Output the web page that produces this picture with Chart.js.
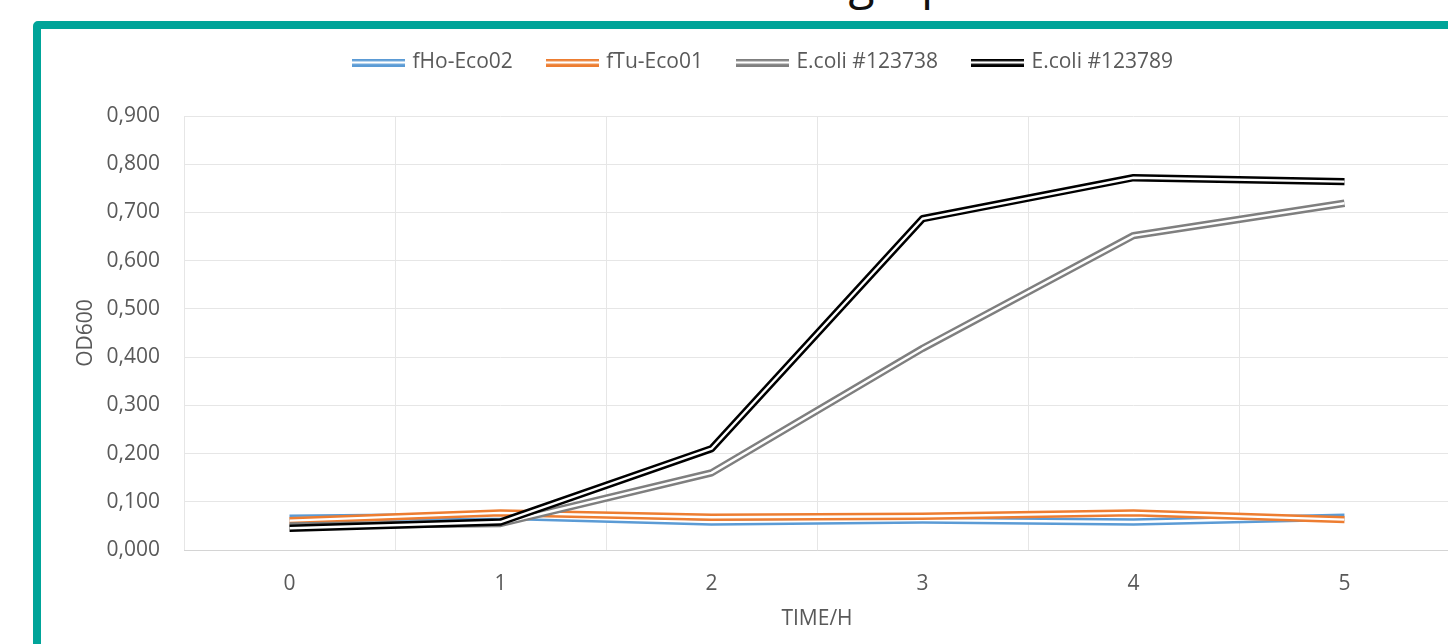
<!DOCTYPE html>
<html><head><meta charset="utf-8">
<script src="https://cdn.jsdelivr.net/npm/chart.js@4.4.1/dist/chart.umd.min.js"></script>
<style>
html,body{margin:0;padding:0;width:1448px;height:644px;overflow:hidden;background:#fff;}
#title{position:absolute;left:669px;top:-43px;font-family:'Open Sans';font-size:48px;line-height:48px;color:#111;white-space:nowrap;}
#wrap{position:absolute;left:0;top:0;width:1500px;height:700px;}
#frame{position:absolute;left:33px;top:21px;width:1500px;height:700px;border:8px solid #00A499;border-radius:5px;box-sizing:border-box;pointer-events:none;}
</style></head>
<body>
<div id="title">Growth graph</div>
<div id="wrap"><canvas id="c" width="1500" height="700"></canvas></div>
<div id="frame"></div>
<script>
// ---- data ----
const categories = ['0', '1', '2', '3', '4', '5'];
const seriesNames = ['fHo-Eco02', 'fTu-Eco01', 'E.coli #123738', 'E.coli #123789'];
const fHoEco02 = [0.066, 0.070, 0.058, 0.062, 0.058, 0.068];
const fTuEco01 = [0.061, 0.077, 0.068, 0.070, 0.077, 0.063];
const ecoli123738 = [0.050, 0.055, 0.160, 0.418, 0.652, 0.719];
const ecoli123789 = [0.045, 0.058, 0.210, 0.687, 0.772, 0.764];
const seriesColors = ['#5B9BD5', '#ED7D31', '#7F7F7F', '#000000'];
const yMin = 0, yMax = 0.9, yStep = 0.1;
const xTitle = 'TIME/H';
const yTitle = 'OD600';

const FONT = "'Open Sans'";
const FS = 21;
const TXT = '#595959';
const GRID = '#e6e6e6';

function makeMarker(color) {
  const cv = document.createElement('canvas');
  cv.width = 53; cv.height = 8;
  const c = cv.getContext('2d');
  c.fillStyle = color; c.fillRect(0, 0, 53, 8);
  c.fillStyle = '#ffffff'; c.fillRect(0, 2.8, 53, 2.4);
  return cv;
}
const markers = seriesColors.map(makeMarker);

const allSeries = [fHoEco02, fTuEco01, ecoli123738, ecoli123789];
const datasets = allSeries.map((d, i) => ({
  label: seriesNames[i],
  data: d,
  borderColor: seriesColors[i],
  backgroundColor: seriesColors[i],
  borderWidth: 7.4,
  pointRadius: 0,
  pointHoverRadius: 0,
  tension: 0,
  fill: false,
  borderJoinStyle: 'round',
  order: allSeries.length - i
}));

const doubleLine = {
  id: 'doubleLine',
  afterDatasetDraw(chart, args) {
    const pts = args.meta.data;
    if (!pts || !pts.length) return;
    const ctx = chart.ctx;
    ctx.save();
    ctx.beginPath();
    ctx.moveTo(pts[0].x, pts[0].y);
    for (let i = 1; i < pts.length; i++) ctx.lineTo(pts[i].x, pts[i].y);
    ctx.lineWidth = 2.4;
    ctx.strokeStyle = '#ffffff';
    ctx.lineJoin = 'round';
    ctx.lineCap = 'butt';
    ctx.stroke();
    ctx.restore();
  }
};

const legendSpacer = {
  id: 'legendSpacer',
  beforeLayout(chart) {
    const lg = chart.legend;
    if (lg && !lg._patched) {
      const orig = lg.fit;
      lg.fit = function () { orig.call(this); this.height += 33; };
      lg._patched = true;
    }
  }
};

new Chart(document.getElementById('c'), {
  type: 'line',
  data: { labels: categories, datasets },
  options: {
    responsive: false,
    animation: false,
    devicePixelRatio: 1,
    layout: { padding: { left: 79, right: 50, top: 15, bottom: 50 } },
    plugins: {
      tooltip: { enabled: false },
      legend: {
        position: 'top',
        labels: {
          color: TXT,
          font: { family: FONT, size: FS },
          padding: 37,
          usePointStyle: true,
          pointStyleWidth: 46,
          generateLabels: () => seriesNames.map((n, i) => ({
            text: n, fillStyle: seriesColors[i], strokeStyle: seriesColors[i],
            lineWidth: 0, pointStyle: markers[i], datasetIndex: i, hidden: false, fontColor: TXT
          }))
        }
      }
    },
    scales: {
      x: {
        offset: true,
        grid: { offset: true, color: GRID, drawTicks: false },
        border: { display: true, color: '#d4d4d4' },
        ticks: { color: TXT, font: { family: FONT, size: FS }, padding: 21 },
        title: { display: true, text: xTitle, color: TXT, font: { family: FONT, size: FS }, padding: { top: 0, bottom: 18 } },
        afterFit(s) { s.height = 100; }
      },
      y: {
        min: yMin, max: yMax,
        grid: { color: GRID, drawTicks: false },
        border: { display: false },
        ticks: {
          stepSize: yStep, color: TXT, font: { family: FONT, size: FS }, padding: 24,
          callback: v => v.toFixed(3).replace('.', ',')
        },
        title: { display: true, text: yTitle, color: TXT, font: { family: FONT, size: FS }, padding: { top: -6, bottom: 0 } },
        afterFit(s) { s.width = 105; }
      }
    }
  },
  plugins: [doubleLine, legendSpacer]
});
</script>
</body></html>
